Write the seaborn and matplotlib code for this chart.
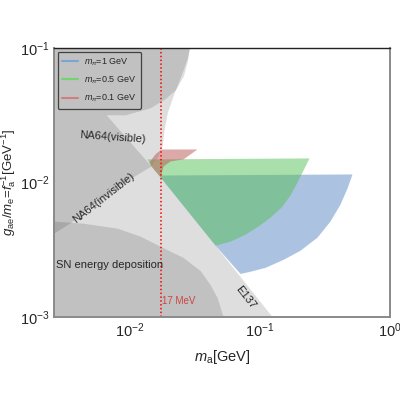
import numpy as np
import matplotlib.pyplot as plt
from matplotlib.lines import Line2D
import seaborn as sns

# boundaries, m_a [GeV] vs g_ae/m_e [GeV^-1]
e137_m = [0.0026, 0.00593, 0.01463, 0.0172, 0.0455, 0.1247, 0.0026]
e137_g = [0.0842, 0.0356, 0.01315, 0.01089, 0.00339, 0.001, 0.001]

na64_m = [0.0026, 0.0026, 0.02917, 0.02760, 0.02500, 0.02180, 0.0196, 0.01840,
          0.01790, 0.01656, 0.01463, 0.00861, 0.00497, 0.00355]
na64_g = [0.00416, 0.1, 0.1, 0.0814, 0.0629, 0.0446, 0.0333, 0.0244,
          0.01888, 0.01563, 0.01315, 0.00966, 0.00662, 0.00502]

cap_m = [0.0026, 0.0287, 0.0280, 0.02600, 0.0226, 0.01875, 0.0144, 0.00923,
         0.00659, 0.00593, 0.0026]
cap_g = [0.1, 0.1, 0.0814, 0.0618, 0.0487, 0.0416, 0.0356, 0.0316,
         0.0316, 0.0356, 0.0842]

sn_m = [0.0026, 0.00438, 0.00801, 0.01205, 0.01718, 0.02582, 0.03486, 0.0416,
        0.0471, 0.0524, 0.0026]
sn_g = [0.00512, 0.00494, 0.00454, 0.00396, 0.00333, 0.00275, 0.0022, 0.00173,
        0.00139, 0.001, 0.001]

blue_m = [0.0172, 0.0172, 0.5147, 0.471, 0.416, 0.348, 0.2767, 0.2049, 0.1518,
          0.1103, 0.0845, 0.0708, 0.0455]
blue_g = [0.01089, 0.01127, 0.01148, 0.00902, 0.00685, 0.00512, 0.00389, 0.00311,
          0.00266, 0.00232, 0.00217, 0.00209, 0.00339]

green_m = [0.01364, 0.2403, 0.2163, 0.1942, 0.1717, 0.1463, 0.1204, 0.0973,
           0.0773, 0.0593, 0.0455, 0.0172, 0.01463]
green_g = [0.01485, 0.0151, 0.0123, 0.01, 0.008, 0.0065, 0.00548, 0.0047,
           0.00409, 0.00363, 0.00339, 0.01089, 0.01315]

red_m = [0.01746, 0.0330, 0.0258, 0.0205, 0.0181, 0.0172, 0.01463, 0.01413, 0.0157]
red_g = [0.0176, 0.0176, 0.01485, 0.01435, 0.01315, 0.01089, 0.01315, 0.0141, 0.0162]

m_17 = 0.0172
labels = ["$m_\\pi$=1 GeV", "$m_\\pi$=0.5 GeV", "$m_\\pi$=0.1 GeV"]

sns.set_style("white")
plt.rcParams['font.family'] = ['Liberation Sans', 'DejaVu Sans']
plt.rcParams['mathtext.fontset'] = 'custom'
plt.rcParams['mathtext.rm'] = 'Liberation Sans'
plt.rcParams['mathtext.it'] = 'Liberation Sans:italic'

fig = plt.figure(figsize=(4, 4), dpi=100)
ax = fig.add_axes([0.135, 0.2075, 0.84, 0.6725])

gray_a = 0.13
for xs, ys in [(e137_m, e137_g), (na64_m, na64_g), (cap_m, cap_g), (sn_m, sn_g)]:
    ax.fill(xs, ys, color='k', alpha=gray_a, lw=0)

ax.fill(blue_m, blue_g, color='#5b87c5', alpha=0.5, lw=0)
ax.fill(green_m, green_g, color='#55c057', alpha=0.5, lw=0)
ax.fill(red_m, red_g, color='#ba5454', alpha=0.5, lw=0)

ax.axvline(m_17, color='red', ls=(0, (1, 1.5)), lw=1.1)

ax.set_xscale('log')
ax.set_yscale('log')
ax.set_xlim(0.0026, 1)
ax.set_ylim(1e-3, 1e-1)
ax.minorticks_off()
ax.tick_params(direction='in', length=4, width=1, color='#555555',
               labelsize=10.5, pad=3)

for side in ['left', 'bottom', 'right']:
    ax.spines[side].set_color('#8a8a8a')
    ax.spines[side].set_linewidth(1.4)
ax.spines['top'].set_color('#222222')
ax.spines['top'].set_linewidth(1.0)

ax.text(0.00732, 0.0217, "NA64(visible)", fontsize=8, ha='center', va='center',
        rotation=-4)
ax.text(0.00625, 0.00773, "NA64(invisible)", fontsize=8, ha='center', va='center',
        rotation=38)
ax.text(0.0027, 0.00244, "SN energy deposition", fontsize=8, ha='left', va='center')
ax.text(0.0773, 0.00141, "E137", fontsize=8, ha='center', va='center', rotation=-52)
ax.text(0.0176, 0.00132, "17 MeV", fontsize=7, ha='left', va='center', color='#cc4444')

ax.set_xlabel("$m_{\\rm a}$[GeV]", fontsize=10.5, labelpad=6)
ax.set_ylabel("$g_{\\rm ae}/m_{\\rm e}$=$f_{\\rm a}^{-1}$[GeV$^{-1}$]", fontsize=9.5)
ax.yaxis.set_label_coords(-0.108, 0.5)

handles = [Line2D([], [], color=c, lw=1.5) for c in ['#7aa3d6', '#6fd66f', '#cf7f7f']]
leg = ax.legend(handles, labels, loc='upper left', fontsize=6.5, frameon=True,
                fancybox=True, borderaxespad=0.4, handlelength=1.8,
                handletextpad=0.6, labelspacing=0.75, borderpad=0.5)
leg.get_frame().set_facecolor('none')
leg.get_frame().set_edgecolor('#222222')
leg.get_frame().set_linewidth(0.9)

fig.savefig("out.png", dpi=100)
